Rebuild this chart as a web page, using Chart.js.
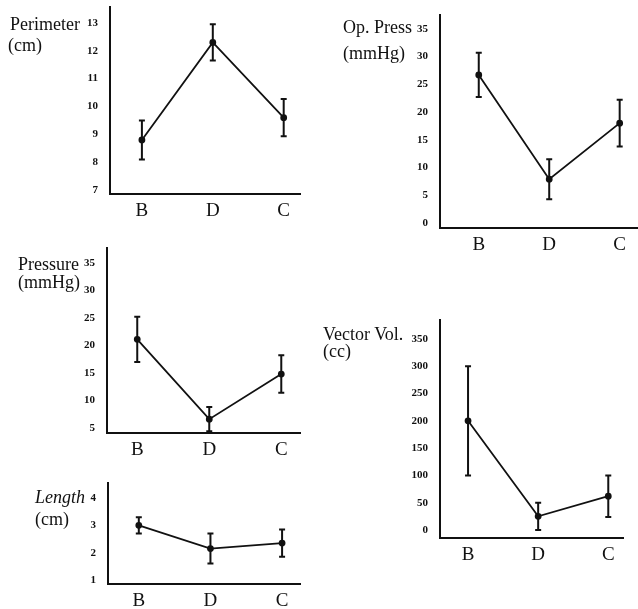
<!DOCTYPE html>
<html>
<head>
<meta charset="utf-8">
<script src="https://cdn.jsdelivr.net/npm/chart.js@4.4.0/dist/chart.umd.min.js"></script>
<style>
  body { margin: 0; background: #fff; }
  #page { position: relative; width: 638px; height: 609px; overflow: hidden; }
  canvas { position: absolute; }
  .ttl { position: absolute; font-family: "Liberation Serif", "DejaVu Serif", serif; font-size: 18px; line-height: 18px; color: #111; white-space: nowrap; }
</style>
</head>
<body>
<div id="page">
  <canvas id="c-perimeter"></canvas>
  <canvas id="c-oppress"></canvas>
  <canvas id="c-pressure"></canvas>
  <canvas id="c-length"></canvas>
  <canvas id="c-vector"></canvas>

  <div class="ttl" style="left:10px;top:15px">Perimeter</div>
  <div class="ttl" style="left:8px;top:36px">(cm)</div>
  <div class="ttl" style="left:343px;top:18px">Op. Press</div>
  <div class="ttl" style="left:343px;top:44px">(mmHg)</div>
  <div class="ttl" style="left:18px;top:255px">Pressure</div>
  <div class="ttl" style="left:18px;top:273px">(mmHg)</div>
  <div class="ttl" style="left:35px;top:488px;font-style:italic">Length</div>
  <div class="ttl" style="left:35px;top:510px">(cm)</div>
  <div class="ttl" style="left:323px;top:325px">Vector Vol.</div>
  <div class="ttl" style="left:323px;top:342px">(cc)</div>
</div>

<script>
// categorias (eixo x)
const categories = ['B', 'D', 'C'];

// Perimeter (cm)
const perimeterMean = [8.8, 12.3, 9.6];
const perimeterErr = [0.7, 0.65, 0.67];
const perimeterTicks = [7, 8, 9, 10, 11, 12, 13];

// Op. Press (mmHg)
const opPressMean = [26.7, 7.9, 18.0];
const opPressErr = [4.0, 3.6, 4.2];
const opPressTicks = [0, 5, 10, 15, 20, 25, 30, 35];

// Pressure (mmHg)
const pressureMean = [21.1, 6.6, 14.8];
const pressureErr = [4.1, 2.2, 3.4];
const pressureTicks = [5, 10, 15, 20, 25, 30, 35];

// Length (cm)
const lengthMean = [3.0, 2.15, 2.35];
const lengthErr = [0.3, 0.55, 0.5];
const lengthTicks = [1, 2, 3, 4];

// Vector Vol. (cc)
const vectorMean = [200, 25, 62];
const vectorErr = [100, 25, 38];
const vectorTicks = [0, 50, 100, 150, 200, 250, 300, 350];

// desenha as barras de erro usando as escalas do gráfico
const errorBarPlugin = {
    id: 'errorBars',
    afterDatasetsDraw(chart, args, opts) {
        const ctx = chart.ctx;
        const xs = chart.scales.x;
        const ys = chart.scales.y;
        const cap = 3;
        ctx.save();
        ctx.strokeStyle = '#111';
        ctx.lineWidth = 2;
        opts.means.forEach((m, i) => {
            const x = xs.getPixelForValue(i);
            const yTop = ys.getPixelForValue(m + opts.errors[i]);
            const yBot = ys.getPixelForValue(m - opts.errors[i]);
            ctx.beginPath();
            ctx.moveTo(x, yTop);
            ctx.lineTo(x, yBot);
            ctx.moveTo(x - cap, yTop);
            ctx.lineTo(x + cap, yTop);
            ctx.moveTo(x - cap, yBot);
            ctx.lineTo(x + cap, yBot);
            ctx.stroke();
        });
        ctx.restore();
    }
};

function makeChart(id, box, means, errors, ticks, yMin, yMax, xMin, xMax) {
    const canvas = document.getElementById(id);
    canvas.style.left = box.left + 'px';
    canvas.style.top = box.top + 'px';
    canvas.width = box.width;
    canvas.height = box.height;

    return new Chart(canvas, {
        type: 'line',
        data: {
            datasets: [{
                data: categories.map((c, i) => ({ x: i, y: means[i] })),
                borderColor: '#111',
                borderWidth: 1.8,
                pointRadius: 2.5,
                pointBackgroundColor: '#111',
                pointBorderColor: '#111',
                tension: 0,
                clip: false
            }]
        },
        options: {
            responsive: false,
            animation: false,
            events: [],
            layout: {
                autoPadding: false,
                padding: { top: box.padTop, right: box.padRight, left: 0, bottom: 0 }
            },
            plugins: {
                legend: { display: false },
                tooltip: { enabled: false },
                errorBars: { means: means, errors: errors }
            },
            scales: {
                x: {
                    type: 'linear',
                    min: xMin,
                    max: xMax,
                    grid: { display: false, drawTicks: false },
                    border: { display: true, color: '#111', width: 2 },
                    afterBuildTicks: s => { s.ticks = categories.map((c, i) => ({ value: i })); },
                    afterFit: s => {
                        s.height = box.xHeight;
                        s.paddingLeft = 0;
                        s.paddingRight = 0;
                    },
                    ticks: {
                        padding: 6,
                        color: '#111',
                        maxRotation: 0,
                        autoSkip: false,
                        font: { family: 'Liberation Serif', size: 19 },
                        callback: v => categories[v]
                    }
                },
                y: {
                    type: 'linear',
                    min: yMin,
                    max: yMax,
                    grid: { display: false, drawTicks: false },
                    border: { display: true, color: '#111', width: 2 },
                    afterBuildTicks: s => { s.ticks = ticks.map(v => ({ value: v })); },
                    afterFit: s => {
                        s.width = box.yWidth;
                        s.paddingTop = 0;
                        s.paddingBottom = 0;
                    },
                    ticks: {
                        padding: 12,
                        color: '#111',
                        font: { family: 'Liberation Serif', size: 11, weight: 'bold' }
                    }
                }
            }
        },
        plugins: [errorBarPlugin]
    });
}

makeChart('c-perimeter', { left: 0, top: 0, width: 310, height: 225, padTop: 7, padRight: 10, yWidth: 110, xHeight: 31 },
    perimeterMean, perimeterErr, perimeterTicks, 6.86, 13.57, -0.45, 2.23);

makeChart('c-oppress', { left: 330, top: 0, width: 308, height: 260, padTop: 15, padRight: 0, yWidth: 110, xHeight: 32 },
    opPressMean, opPressErr, opPressTicks, -0.9, 37.5, -0.55, 2.26);

makeChart('c-pressure', { left: 0, top: 220, width: 310, height: 240, padTop: 28, padRight: 10, yWidth: 107, xHeight: 27 },
    pressureMean, pressureErr, pressureTicks, 4.09, 37.7, -0.42, 2.26);

makeChart('c-length', { left: 0, top: 460, width: 310, height: 149, padTop: 23, padRight: 10, yWidth: 108, xHeight: 25 },
    lengthMean, lengthErr, lengthTicks, 0.854, 4.55, -0.43, 2.25);

makeChart('c-vector', { left: 330, top: 300, width: 308, height: 270, padTop: 20, padRight: 15, yWidth: 110, xHeight: 32 },
    vectorMean, vectorErr, vectorTicks, -14.7, 384.8, -0.4, 2.21);
</script>
</body>
</html>
